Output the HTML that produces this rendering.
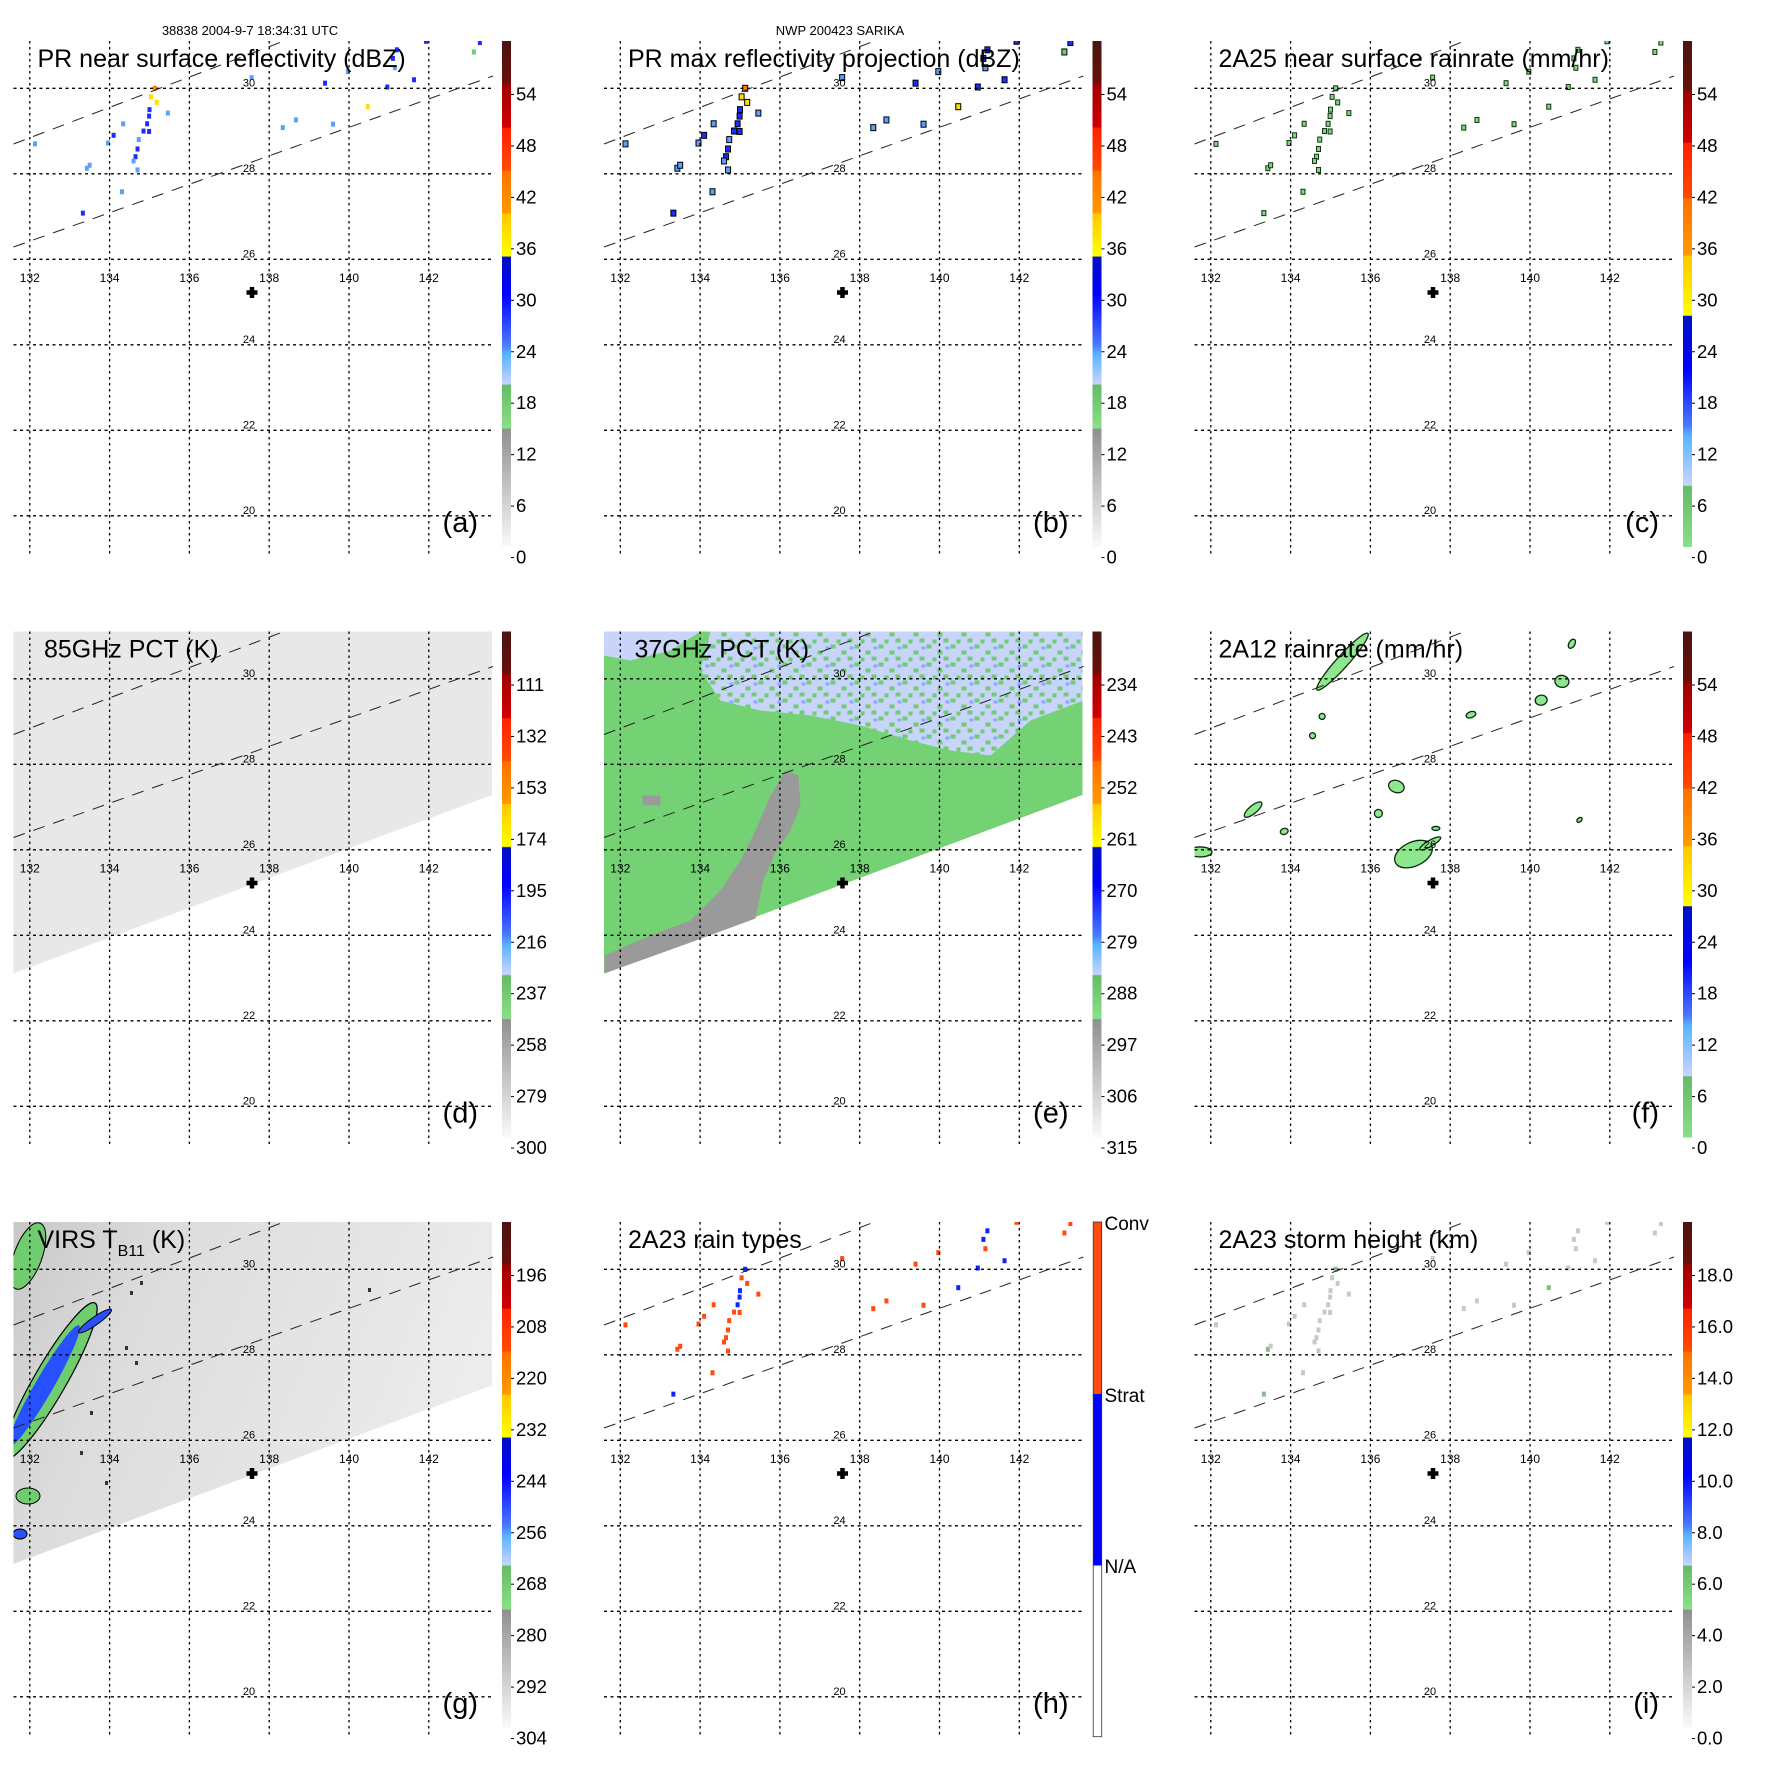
<!DOCTYPE html>
<html><head><meta charset="utf-8">
<style>
html,body{margin:0;padding:0;background:#fff;}
svg{display:block;font-family:"Liberation Sans",Arial,sans-serif;}
</style></head>
<body>
<svg id="fig" width="1771" height="1771" viewBox="0 0 1771 1771" xmlns="http://www.w3.org/2000/svg">
<defs>
<linearGradient id="cmStd" x1="0" y1="0" x2="0" y2="1">
<stop offset="0" stop-color="#4a1410"/><stop offset="0.083" stop-color="#6a1008"/>
<stop offset="0.085" stop-color="#a00000"/><stop offset="0.17" stop-color="#d00000"/>
<stop offset="0.172" stop-color="#ff2000"/><stop offset="0.255" stop-color="#ff4a00"/>
<stop offset="0.257" stop-color="#ff7000"/><stop offset="0.34" stop-color="#ff9a00"/>
<stop offset="0.342" stop-color="#ffc800"/><stop offset="0.425" stop-color="#ffff00"/>
<stop offset="0.427" stop-color="#0010c0"/><stop offset="0.5" stop-color="#0000ff"/>
<stop offset="0.6" stop-color="#4a7aff"/><stop offset="0.62" stop-color="#5ab4ff"/>
<stop offset="0.678" stop-color="#c8d4ff"/><stop offset="0.68" stop-color="#66bb66"/>
<stop offset="0.765" stop-color="#88e088"/><stop offset="0.767" stop-color="#909090"/>
<stop offset="1" stop-color="#fafafa"/>
</linearGradient>
<linearGradient id="cmRain" x1="0" y1="0" x2="0" y2="1">
<stop offset="0" stop-color="#4a1410"/><stop offset="0.1" stop-color="#6a1008"/>
<stop offset="0.102" stop-color="#a00000"/><stop offset="0.2" stop-color="#d00000"/>
<stop offset="0.202" stop-color="#ff2000"/><stop offset="0.31" stop-color="#ff4a00"/>
<stop offset="0.312" stop-color="#ff7000"/><stop offset="0.423" stop-color="#ff9a00"/>
<stop offset="0.425" stop-color="#ffc800"/><stop offset="0.542" stop-color="#ffff00"/>
<stop offset="0.544" stop-color="#0010c0"/><stop offset="0.65" stop-color="#0000ff"/>
<stop offset="0.76" stop-color="#4a7aff"/><stop offset="0.78" stop-color="#5ab4ff"/>
<stop offset="0.878" stop-color="#c8d4ff"/><stop offset="0.88" stop-color="#66bb66"/>
<stop offset="1" stop-color="#88e088"/>
</linearGradient>
<linearGradient id="irBg" x1="0" y1="0" x2="1" y2="0.3">
<stop offset="0" stop-color="#c8c8c8"/><stop offset="0.3" stop-color="#dcdcdc"/><stop offset="1" stop-color="#ececec"/>
</linearGradient>
<pattern id="speck" width="24" height="18" patternUnits="userSpaceOnUse">
<rect x="0" y="0" width="5" height="4" fill="#6fcc6f"/><rect x="11" y="6" width="5" height="4" fill="#6fcc6f"/>
<rect x="17" y="12" width="5" height="4" fill="#6fcc6f"/><rect x="6" y="13" width="4" height="4" fill="#6fcc6f"/>
<rect x="19" y="2" width="4" height="3" fill="#88aaff"/>
</pattern>
<clipPath id="mapclip"><rect x="13.5" y="41" width="478.5" height="515"/></clipPath>
</defs>
</svg>
<script>
// ---- data ----
const lonTicks=[132,134,136,138,140,142];
const latTicks=[30,28,26,24,22,20];
const titles=["PR near surface reflectivity (dBZ)","PR max reflectivity projection (dBZ)","2A25 near surface rainrate (mm/hr)","85GHz PCT (K)","37GHz PCT (K)","2A12 rainrate (mm/hr)","VIRS T","2A23 rain types","2A23 storm height (km)"];
const letters=["(a)","(b)","(c)","(d)","(e)","(f)","(g)","(h)","(i)"];
const cbA=["54","48","42","36","30","24","18","12","6","0"];
const cbD=["111","132","153","174","195","216","237","258","279","300"];
const cbE=["234","243","252","261","270","279","288","297","306","315"];
const cbG=["196","208","220","232","244","256","268","280","292","304"];
const cbI=["18.0","16.0","14.0","12.0","10.0","8.0","6.0","4.0","2.0","0.0"];
// PR echo cells (lon, lat, dBZ, rain type 1=conv 2=strat)
const echoLon=[135.13,135.04,135.18,134.99,134.94,134.99,134.73,134.70,134.65,134.70,134.34,134.10,133.96,133.43,134.31,133.33,132.13,135.46,137.56,139.40,140.96,140.47,141.63,143.28,143.13,139.60,138.67,138.34,141.15,141.93,139.97,135.0,134.85,134.6,133.5,141.1,141.2];
const echoLat=[30.00,29.80,29.67,29.35,29.17,28.99,28.80,28.58,28.40,28.09,29.17,28.90,28.72,28.13,27.58,27.08,28.70,29.42,30.25,30.12,30.03,29.57,30.20,31.07,30.85,29.16,29.26,29.08,30.48,31.10,30.39,29.5,29.0,28.3,28.2,30.7,30.9];
const echoDbz=[40,38,37,30,28,27,26,29,28,25,24,27,22,26,23,30,22,24,23,28,30,38,30,28,20,24,22,23,26,30,25,31,28,24,26,29,27];
const echoType=[2,1,1,2,2,1,1,1,1,1,1,1,1,1,1,2,1,1,1,1,2,2,2,1,1,1,1,1,1,1,1,2,1,1,1,2,2];
const echoH=[5,4,3,4,3,3,3,3,3,3,3,3,2,5,2,5,2,2,3,3,4,5,3,2,2,2,2,2,2,2,2,3,3,2,3,4,3];
// 2A12 rain blobs (lon, lat, rx px, ry px, rot deg)
const rrLon=[135.3,133.06,136.65,137.08,131.73,140.8,140.28,138.52,141.05,133.84,136.2,141.24,134.55,134.79,137.64,137.5];
const rrLat=[30.4,26.94,27.48,25.9,25.95,29.94,29.5,29.16,30.82,26.43,26.85,26.7,28.67,29.12,26.5,26.15];
const rrRx=[38,11,6,20,12,7,5,5,5,4,4,3,3,3,4,12];
const rrRy=[6,4,8,12,5,6,6,3,3,3,4,2,3,3,2,3];
const rrRot=[-48,-40,-70,-25,0,10,80,-20,-60,-20,-70,-40,-70,-70,0,-30];

// ---- axes ----
function lx(lon){return 29.8+39.9*(lon-132);}
function ly(lat){return 88.3+42.75*(30-lat);}
const NS="http://www.w3.org/2000/svg";
const fig=document.getElementById('fig');
function mk(tag,attrs,parent){const e=document.createElementNS(NS,tag);for(const k in attrs)e.setAttribute(k,attrs[k]);parent.appendChild(e);return e;}
function stdColor(v){
  if(v<15) return '#aaaaaa'; if(v<21) return '#6fcc6f'; if(v<27) return '#5aa0ff';
  if(v<33) return '#1a2cff'; if(v<39) return '#ffdd00'; if(v<45) return '#ff8000'; return '#ff2000';}

let t=mk('text',{x:250,y:35,'font-size':13,'text-anchor':'middle'},fig);
t.textContent='38838 2004-9-7 18:34:31 UTC';
t=mk('text',{x:840,y:35,'font-size':13,'text-anchor':'middle'},fig);
t.textContent='NWP 200423 SARIKA';

for(let p=0;p<9;p++){
  const col=p%3,row=Math.floor(p/3);
  const g=mk('g',{transform:`translate(${col*590.5},${row*590.5})`},fig);
  
  
  const m=mk('g',{'clip-path':'url(#mapclip)'},g);
  
  
  const sw=`13.3,41 493,41 493,204 13.3,383`;
  if(p===3){ mk('polygon',{points:sw,fill:'#e8e8e8'},m); }
  if(p===4){
    mk('polygon',{points:sw,fill:'#74d274'},m);
    mk('polygon',{points:'120,41 493,41 493,110 440,130 400,165 360,160 320,150 270,135 220,125 170,120 130,110 110,80',fill:'#c8d4fa'},m);
    mk('polygon',{points:'120,41 493,41 493,110 440,130 400,165 360,160 320,150 270,135 220,125 170,120 130,110 110,80',fill:'url(#speck)'},m);
    mk('polygon',{points:'13.3,41 110,41 80,60 40,70 13.3,65',fill:'#c8d4fa'},m);
    mk('polygon',{points:'14,383 14,365 60,345 100,330 130,300 150,270 165,240 180,205 195,180 208,185 210,215 200,240 185,262 172,292 165,328 100,352',fill:'#9a9a9a'},m);
    mk('rect',{x:52,y:205,width:18,height:10,fill:'#9a9a9a'},m);
  }
  if(p===6){
    mk('polygon',{points:sw,fill:'url(#irBg)'},m);
    mk('ellipse',{cx:28,cy:75,rx:14,ry:35,transform:'rotate(20 28 75)',fill:'#6fcc6f',stroke:'#000','stroke-width':1},m);
    mk('ellipse',{cx:50,cy:200,rx:16,ry:90,transform:'rotate(30 50 200)',fill:'#6fcc6f',stroke:'#000','stroke-width':1.2},m);
    mk('ellipse',{cx:44,cy:205,rx:9,ry:70,transform:'rotate(30 44 205)',fill:'#2850ff'},m);
    mk('ellipse',{cx:95,cy:140,rx:4,ry:20,transform:'rotate(55 95 140)',fill:'#2850ff',stroke:'#000'},m);
    mk('ellipse',{cx:28,cy:315,rx:12,ry:8,fill:'#6fcc6f',stroke:'#000'},m);
    mk('ellipse',{cx:20,cy:353,rx:7,ry:5,fill:'#2850ff',stroke:'#000'},m);
    [[130,110],[140,100],[90,230],[80,270],[105,300],[135,180],[125,165],[368,107]].forEach(([x,y])=>mk('rect',{x:x,y:y,width:3,height:4,fill:'#333'},m));
  }
  if([0,1,2,7,8].includes(p)){
    for(let i=0;i<echoLon.length;i++){
      const x=lx(echoLon[i]),y=ly(echoLat[i]);
      let fill,stroke='none',w=4,h=5;
      if(p===0) fill=stdColor(echoDbz[i]);
      if(p===1){fill=stdColor(echoDbz[i]);stroke='#000';w=5;h=6;}
      if(p===2){fill='#7fd87f';stroke='#113311';w=4;h=5;}
      if(p===7) fill=echoType[i]===1?'#ff4a10':'#1020ff';
      if(p===8) fill=echoH[i]>=5?'#88bb88':'#c8c8c8';
      const r=mk('rect',{x:x-w/2,y:y-h/2,width:w,height:h,fill:fill,stroke:stroke,'stroke-width':1},m);
      
      
    }
  }
  if(p===5){
    for(let i=0;i<rrLon.length;i++){
      const x=lx(rrLon[i]),y=ly(rrLat[i]);
      const e=mk('ellipse',{cx:x,cy:y,rx:rrRx[i],ry:rrRy[i],transform:`rotate(${rrRot[i]} ${x} ${y})`,fill:'#8ee68e',stroke:'#0a2a0a','stroke-width':1.3},m);
      
      
    }
  }
  for(const lon of lonTicks){
    const l=mk('line',{x1:lx(lon),x2:lx(lon),y1:41,y2:556,stroke:'#000','stroke-width':1.3,'stroke-dasharray':'2.5 3.5'},g);
    
    const tx=mk('text',{x:lx(lon),y:282,'font-size':12,'text-anchor':'middle'},g);
    tx.textContent=lon;
  }
  for(const lat of latTicks){
    const l=mk('line',{x1:13.5,x2:492,y1:ly(lat),y2:ly(lat),stroke:'#000','stroke-width':1.3,'stroke-dasharray':'3 3.5'},g);
    
    const tx=mk('text',{x:249,y:ly(lat)-2,'font-size':11,'text-anchor':'middle'},g);
    tx.textContent=lat;
  }
  const s1=mk('line',{x1:13.5,y1:144,x2:284,y2:41,stroke:'#222','stroke-width':1,'stroke-dasharray':'12 9'},g);
  
  const s2=mk('line',{x1:13.5,y1:247,x2:493,y2:76,stroke:'#222','stroke-width':1,'stroke-dasharray':'12 9'},g);
  
  const c=mk('path',{d:'M246.5 292.5h11M252 287v11',stroke:'#000','stroke-width':4.5},g);
  
  const tt=mk('text',{x:(p===3||p===4)?44:37.5,y:67,'font-size':25},g);
  
  if(p===6){tt.innerHTML='VIRS T<tspan font-size="16" dy="8">B11</tspan><tspan dy="-8"> (K)</tspan>';}
  else tt.textContent=titles[p];
  const lt=mk('text',{x:478,y:532,'font-size':29,'text-anchor':'end'},g);
  lt.textContent=letters[p];
  if(p===7){
    mk('rect',{x:502.7,y:41,width:8.5,height:172,fill:'#ff4a10'},g);
    mk('rect',{x:502.7,y:213,width:8.5,height:171.5,fill:'#0000ff'},g);
    const cb=mk('rect',{x:502.7,y:41,width:8.5,height:514.7,fill:'none',stroke:'#333','stroke-width':0.8},g);
    
    [['Conv',49],['Strat',221],['N/A',392]].forEach(([s,y])=>{const q=mk('text',{x:514,y:y,'font-size':19},g);
      q.textContent=s;});
  } else {
    const grad=(p===2||p===5)?'cmRain':'cmStd';
    const cb=mk('rect',{x:502,y:41,width:9,height:506,fill:`url(#${grad})`},g);
    
    const labs=[cbA,cbA,cbA,cbD,cbE,cbA,cbG,null,cbI][p];
    labs.forEach((s,i)=>{const y=94.5+51.45*i;
      mk('line',{x1:511,x2:514,y1:y,y2:y,stroke:'#000','stroke-width':1},g);
      const q=mk('text',{x:516,y:y+6,'font-size':18.5},g);
      q.textContent=s;});
  }
}
</script>
</body></html>
